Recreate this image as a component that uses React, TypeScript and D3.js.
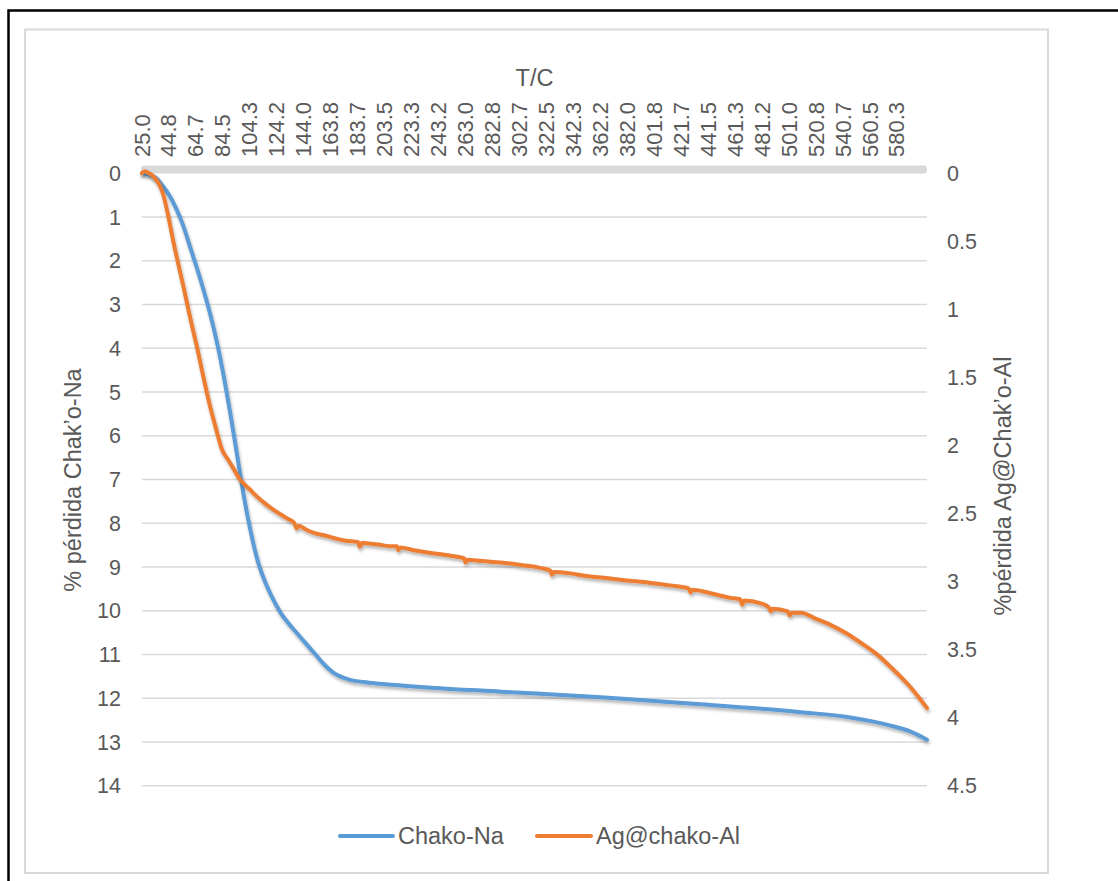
import React from "react";
import * as d3 from "d3";

// ---- data ----
const xTickLabels = ["25.0","44.8","64.7","84.5","104.3","124.2","144.0","163.8","183.7","203.5","223.3","243.2","263.0","282.8","302.7","322.5","342.3","362.2","382.0","401.8","421.7","441.5","461.3","481.2","501.0","520.8","540.7","560.5","580.3"];
const leftTicks = [0,1,2,3,4,5,6,7,8,9,10,11,12,13,14];
const rightTicks = [0,0.5,1,1.5,2,2.5,3,3.5,4,4.5];

const naTemp = [25, 30, 35, 40, 45, 50, 55, 60, 65, 70, 75, 80, 85, 90, 95, 100, 105, 110, 115, 120, 127, 133, 140, 145, 151.5, 159, 166, 172, 178, 188, 200, 237.6, 289, 362.6, 436, 509.7, 546, 575, 590, 602.4];
const naLoss = [0, 0.03, 0.1, 0.28, 0.5, 0.8, 1.17, 1.65, 2.13, 2.64, 3.2, 3.85, 4.62, 5.5, 6.45, 7.4, 8.2, 8.85, 9.3, 9.65, 10.05, 10.3, 10.55, 10.73, 10.96, 11.23, 11.42, 11.52, 11.58, 11.63, 11.67, 11.76, 11.85, 11.98, 12.14, 12.32, 12.44, 12.62, 12.76, 12.95];

const alTemp = [25,27,30,33,36,38.5,40.7,44,48,52,55.4,59.1,62,65.5,70,75,79,83.8,88,92,97.1,104,110,114.7,120,126,132.4,137,138.8,140.5,146,152,158.9,166,175,183.9,185.2,186.8,192,200,207,212.5,213.5,215,225,237.6,252,262,263,264.5,275,289,305,318,325.5,326.5,328,340,352,362.6,380,399.4,415,427,428.5,430,445,458,465,466.5,468,480.3,486,487.5,489,500,501.5,503,509.7,520,531.8,543,553.8,565,575.9,584,590.6,597,602.4];
const alLoss = [0,-0.015,0.0,0.02,0.055,0.1,0.16,0.3,0.5,0.68,0.83,1.0,1.13,1.28,1.49,1.71,1.86,2.03,2.1,2.165,2.25,2.32,2.38,2.42,2.46,2.5,2.54,2.57,2.61,2.59,2.62,2.645,2.66,2.68,2.7,2.71,2.745,2.715,2.72,2.73,2.74,2.74,2.77,2.75,2.77,2.79,2.81,2.83,2.86,2.84,2.85,2.86,2.88,2.9,2.92,2.95,2.93,2.94,2.96,2.97,2.99,3.01,3.03,3.05,3.08,3.06,3.09,3.12,3.13,3.17,3.14,3.16,3.19,3.22,3.2,3.22,3.25,3.23,3.23,3.27,3.32,3.38,3.45,3.53,3.63,3.71,3.78,3.86,3.93];

const seriesNames = ["Chako-Na", "Ag@chako-Al"];

export default function App() {
  const W = 1118, H = 881;
  const x = d3.scaleLinear().domain([25, 602.4]).range([142, 927]);
  const yL = d3.scaleLinear().domain([0, 14]).range([173.2, 785.7]);
  const yR = d3.scaleLinear().domain([0, 4.5]).range([173.2, 785.7]);
  const blue = "#5b9bd5", orange = "#ed7d31", grid = "#d9d9d9", txt = "#595959";
  const font = "'Liberation Sans', Arial, sans-serif";

  const naPts = naTemp.map((t, i) => [t, naLoss[i]] as [number, number]);
  const alPts = alTemp.map((t, i) => [t, alLoss[i]] as [number, number]);
  const lineL = d3.line<[number, number]>().x(d => x(d[0])).y(d => yL(d[1])).curve(d3.curveMonotoneX);
  const lineR = d3.line<[number, number]>().x(d => x(d[0])).y(d => yR(d[1])).curve(d3.curveMonotoneX);
  const [x0, x1] = x.range();

  return (
    <svg width={W} height={H} style={{ position: "absolute", left: 0, top: 0, display: "block" }} fontFamily={font}>
      <defs>
        <filter id="sh" x="-5%" y="-5%" width="110%" height="115%">
          <feDropShadow dx="1" dy="2.5" stdDeviation="1.5" floodColor="#000" floodOpacity="0.3" />
        </filter>
      </defs>
      <rect x={0} y={0} width={W} height={H} fill="#fff" />
      <path d={`M8.5,${H} V10.5 H${W}`} fill="none" stroke="#000" strokeWidth={2.5} />
      <rect x={25} y={29.5} width={1023} height={843.5} fill="#fff" stroke={grid} strokeWidth={2} />

      {/* gridlines */}
      {leftTicks.filter(v => v > 0).map(v => (
        <line key={v} x1={x0} x2={x1} y1={yL(v)} y2={yL(v)} stroke={grid} strokeWidth={1.6} />
      ))}
      {/* zero axis band */}
      <rect x={x0 - 1} y={yL(0) - 7.7} width={x1 - x0 + 1} height={8} rx={3} fill={grid} />

      {/* left ticks */}
      {leftTicks.map(v => (
        <text key={v} x={121} y={yL(v)} dy="0.36em" textAnchor="end" fontSize={21.5} fill={txt}>{v}</text>
      ))}
      {/* right ticks */}
      {rightTicks.map(v => (
        <text key={v} x={947} y={yR(v)} dy="0.36em" textAnchor="start" fontSize={21.5} fill={txt}>{String(v)}</text>
      ))}
      {/* top ticks */}
      {xTickLabels.map(l => (
        <text key={l} transform={`translate(${x(parseFloat(l)) + 7.5},157) rotate(-90)`} textAnchor="start" fontSize={22} fill={txt}>{l}</text>
      ))}

      {/* titles */}
      <text x={(x0 + x1) / 2} y={86} textAnchor="middle" fontSize={23.5} fill={txt}>T/C</text>
      <text transform={`translate(81,480) rotate(-90)`} textAnchor="middle" fontSize={23.5} fill={txt}>% pérdida Chak’o-Na</text>
      <text transform={`translate(1011,486) rotate(-90)`} textAnchor="middle" fontSize={23.5} fill={txt}>%pérdida Ag@Chak’o-Al</text>

      {/* series */}
      <path d={lineL(naPts) || ""} fill="none" stroke={blue} strokeWidth={4} strokeLinejoin="round" strokeLinecap="round" filter="url(#sh)" />
      <path d={lineR(alPts) || ""} fill="none" stroke={orange} strokeWidth={4} strokeLinejoin="round" strokeLinecap="round" filter="url(#sh)" />

      {/* legend */}
      <line x1={340} x2={393} y1={836} y2={836} stroke={blue} strokeWidth={4} strokeLinecap="round" />
      <text x={398} y={844} fontSize={23.5} fill={txt}>{seriesNames[0]}</text>
      <line x1={537} x2={591} y1={836} y2={836} stroke={orange} strokeWidth={4} strokeLinecap="round" />
      <text x={596} y={844} fontSize={23.5} fill={txt}>{seriesNames[1]}</text>
    </svg>
  );
}
